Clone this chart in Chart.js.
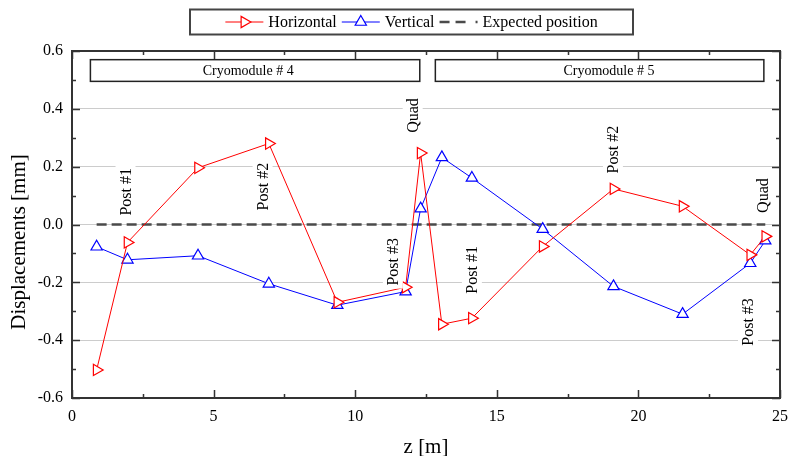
<!DOCTYPE html>
<html>
<head>
<meta charset="utf-8">
<title>Displacements</title>
<script src="https://cdn.jsdelivr.net/npm/chart.js@4.4.1/dist/chart.umd.min.js"></script>
<style>
  html, body { margin: 0; padding: 0; background: #fff; }
  canvas { display: block; }
</style>
</head>
<body>
<canvas id="myChart" width="788" height="456"></canvas>
<script>
// z positions of the measured points [m]
const zPos = [0.87, 1.96, 4.45, 6.95, 9.37, 11.78, 12.31, 13.06, 14.12, 16.62, 19.12, 21.56, 23.95, 24.48];
// displacements [mm]
const horizontal = [-0.503, -0.062, 0.196, 0.280, -0.269, -0.217, 0.247, -0.345, -0.324, -0.076, 0.123, 0.063, -0.105, -0.041];
const vertical = [-0.077, -0.122, -0.108, -0.205, -0.279, -0.232, 0.055, 0.232, 0.161, -0.016, -0.214, -0.310, -0.134, -0.056];
const expected = [0, 0, 0, 0, 0, 0, 0, 0, 0, 0, 0, 0, 0, 0];

// rotated labels of the posts / quads
const markerLabels = ['Post #1', 'Post #2', 'Quad', 'Post #3', 'Post #1', 'Post #2', 'Quad', 'Post #3'];
const markerLabelZ = [1.89, 6.73, 12.03, 11.33, 14.12, 19.10, 24.40, 23.87];
const markerLabelY = [0.113, 0.131, 0.377, -0.129, -0.157, 0.259, 0.100, -0.337];

// cryomodule boxes
const moduleNames = ['Cryomodule # 4', 'Cryomodule # 5'];
const moduleStart = [0.65, 12.83];
const moduleEnd = [12.28, 24.43];
const moduleTextZ = [6.22, 18.96];
const moduleTop = 0.570;
const moduleBottom = 0.495;

const serif = "'Liberation Serif', 'Times New Roman', serif";

function toPoints(ys) {
  return ys.map((v, i) => ({ x: zPos[i], y: v }));
}

function triangle(ctx, x, y, r, rotDeg) {
  let rad = rotDeg * Math.PI / 180;
  ctx.beginPath();
  for (let k = 0; k < 3; k++) {
    const px = x + Math.sin(rad) * r, py = y - Math.cos(rad) * r;
    if (k === 0) ctx.moveTo(px, py); else ctx.lineTo(px, py);
    rad += 2 * Math.PI / 3;
  }
  ctx.closePath();
  ctx.fill();
  ctx.stroke();
}

const decor = {
  id: 'decor',
  afterDatasetsDraw(chart) {
    const ctx = chart.ctx, xs = chart.scales.x, ys = chart.scales.y;
    ctx.save();
    ctx.textAlign = 'center';
    ctx.textBaseline = 'middle';

    // Cryomodule boxes
    ctx.lineWidth = 1.5;
    ctx.strokeStyle = '#222';
    ctx.font = '14px ' + serif;
    moduleNames.forEach((name, i) => {
      const x0 = xs.getPixelForValue(moduleStart[i]), x1 = xs.getPixelForValue(moduleEnd[i]);
      const y0 = ys.getPixelForValue(moduleTop), y1 = ys.getPixelForValue(moduleBottom);
      ctx.fillStyle = '#fff';
      ctx.fillRect(x0, y0, x1 - x0, y1 - y0);
      ctx.strokeRect(x0, y0, x1 - x0, y1 - y0);
      ctx.fillStyle = '#000';
      ctx.fillText(name, xs.getPixelForValue(moduleTextZ[i]), (y0 + y1) / 2 + 1);
    });

    // vertical labels with white background
    ctx.font = '16px ' + serif;
    markerLabels.forEach((txt, i) => {
      const px = xs.getPixelForValue(markerLabelZ[i]), py = ys.getPixelForValue(markerLabelY[i]);
      const w = ctx.measureText(txt).width;
      ctx.save();
      ctx.translate(px, py);
      ctx.rotate(-Math.PI / 2);
      ctx.fillStyle = '#fff';
      ctx.fillRect(-w / 2 - 3, -10, w + 6, 20);
      ctx.fillStyle = '#000';
      ctx.fillText(txt, 0, 1);
      ctx.restore();
    });
    ctx.restore();
  },
  afterDraw(chart) {
    const ctx = chart.ctx, area = chart.chartArea;
    const xs = chart.scales.x, ys = chart.scales.y;
    ctx.save();

    // inward ticks
    ctx.strokeStyle = '#333';
    ctx.lineWidth = 1.5;
    ctx.beginPath();
    ys.ticks.forEach(t => {
      const major = Math.round(t.value * 10) % 2 === 0;
      const len = major ? 8 : 4;
      const py = Math.round(ys.getPixelForValue(t.value)) + 0.5;
      ctx.moveTo(area.left, py); ctx.lineTo(area.left + len, py);
      ctx.moveTo(area.right, py); ctx.lineTo(area.right - len, py);
    });
    xs.ticks.forEach(t => {
      const major = Math.abs(t.value % 5) < 1e-6;
      const len = major ? 8 : 4;
      const px = Math.round(xs.getPixelForValue(t.value)) + 0.5;
      ctx.moveTo(px, area.bottom); ctx.lineTo(px, area.bottom - len);
      ctx.moveTo(px, area.top); ctx.lineTo(px, area.top + len);
    });
    ctx.stroke();

    // frame
    ctx.lineWidth = 2;
    ctx.strokeRect(area.left, area.top, area.right - area.left, area.bottom - area.top);

    // axis titles
    ctx.fillStyle = '#000';
    ctx.font = '21px ' + serif;
    ctx.textAlign = 'center';
    ctx.textBaseline = 'middle';
    ctx.fillText('z [m]', (area.left + area.right) / 2, 447);
    ctx.save();
    ctx.translate(19, 242);
    ctx.rotate(-Math.PI / 2);
    ctx.fillText('Displacements [mm]', 0, 0);
    ctx.restore();

    // legend
    ctx.lineWidth = 2;
    ctx.strokeStyle = '#444';
    ctx.strokeRect(190, 9.5, 443, 25);
    ctx.font = '16px ' + serif;
    ctx.textAlign = 'left';
    const symW = 38, gap = 5, ly = 22;
    const sets = chart.data.datasets;
    let total = 0;
    sets.forEach((d, i) => { total += symW + gap + ctx.measureText(d.label).width + (i ? gap : 0); });
    let cx = 411.5 - total / 2;
    sets.forEach((d, i) => {
      if (i) cx += gap;
      ctx.save();
      ctx.strokeStyle = d.borderColor;
      ctx.lineWidth = d.borderWidth;
      ctx.setLineDash(d.legendDash || []);
      ctx.beginPath();
      ctx.moveTo(cx, ly); ctx.lineTo(cx + symW, ly);
      ctx.stroke();
      ctx.setLineDash([]);
      if (d.pointRadius > 0) {
        ctx.fillStyle = '#fff';
        ctx.lineWidth = 1.2;
        triangle(ctx, cx + symW / 2, ly, d.pointRadius, d.pointRotation || 0);
      }
      ctx.restore();
      cx += symW + gap;
      ctx.fillStyle = '#000';
      ctx.fillText(d.label, cx, ly + 1);
      cx += ctx.measureText(d.label).width;
    });
    ctx.restore();
  }
};

const ctx = document.getElementById('myChart').getContext('2d');
const chart = new Chart(ctx, {
  type: 'line',
  data: {
    datasets: [{
      label: 'Horizontal',
      data: toPoints(horizontal),
      borderColor: '#ff0000',
      borderWidth: 1,
      pointStyle: 'triangle',
      pointRotation: 90,
      pointRadius: 6.5,
      pointBorderWidth: 1.2,
      pointBackgroundColor: '#fff',
      pointBorderColor: '#ff0000'
    }, {
      label: 'Vertical',
      data: toPoints(vertical),
      borderColor: '#0000ff',
      borderWidth: 1,
      pointStyle: 'triangle',
      pointRadius: 6.5,
      pointBorderWidth: 1.2,
      pointBackgroundColor: '#fff',
      pointBorderColor: '#0000ff'
    }, {
      label: 'Expected position',
      data: toPoints(expected),
      borderColor: '#4a4a4a',
      borderWidth: 2.5,
      borderDash: [10, 5],
      legendDash: [10, 6, 10, 10, 2, 20],
      pointRadius: 0
    }]
  },
  options: {
    responsive: false,
    animation: false,
    devicePixelRatio: 1,
    layout: { padding: { top: 51, right: 8, left: 0, bottom: 0 } },
    elements: { line: { tension: 0 } },
    plugins: { legend: { display: false }, tooltip: { enabled: false } },
    scales: {
      x: {
        type: 'linear',
        min: 0,
        max: 25,
        afterFit: s => { s.height = 58; s.paddingRight = 0; s.paddingLeft = 0; },
        grid: { display: false, drawTicks: false },
        border: { display: false },
        ticks: {
          stepSize: 2.5,
          autoSkip: false,
          maxRotation: 0,
          padding: 9,
          color: '#000',
          font: { family: serif, size: 16 },
          callback: v => (Math.abs(v % 5) < 1e-6 ? String(v) : '')
        }
      },
      y: {
        min: -0.6,
        max: 0.6,
        afterFit: s => { s.width = 72; s.paddingTop = 0; s.paddingBottom = 0; },
        grid: {
          drawTicks: false,
          color: c => {
            const v = c.tick.value;
            return Math.round(v * 10) % 2 === 0 && Math.abs(v) < 0.55 ? '#cccccc' : 'rgba(0,0,0,0)';
          }
        },
        border: { display: false },
        ticks: {
          stepSize: 0.1,
          autoSkip: false,
          padding: 9,
          color: '#000',
          font: { family: serif, size: 16 },
          callback: v => (Math.round(v * 10) % 2 === 0 ? v.toFixed(1) : '')
        }
      }
    }
  },
  plugins: [decor]
});
</script>
</body>
</html>
